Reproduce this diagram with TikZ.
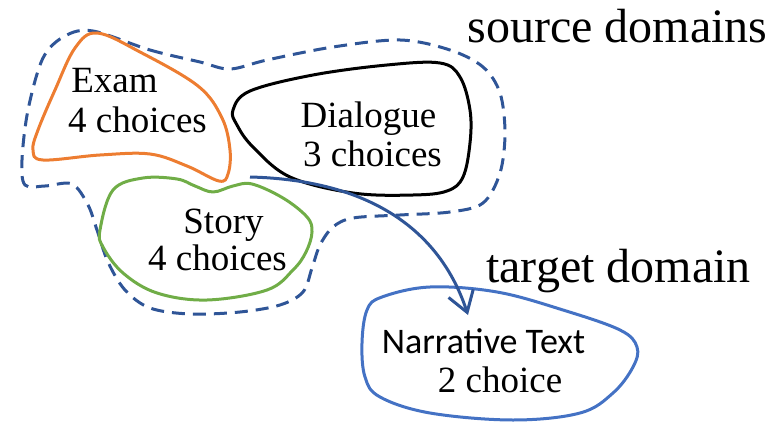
\documentclass[tikz,border=0pt]{standalone}
\usepackage{fontspec}
\setmainfont{Liberation Serif}
\newfontfamily\calibri{Carlito}
\usetikzlibrary{arrows.meta}
\definecolor{cOrange}{HTML}{ED7D31}
\definecolor{cGreen}{HTML}{70AD47}
\definecolor{cBlue}{HTML}{4472C4}
\definecolor{cDark}{HTML}{2F5597}
\begin{document}
\begin{tikzpicture}[x=1pt,y=-1pt,
  blob/.style={line width=3pt, line join=round},
  lbl/.style={inner sep=0pt, anchor=base, font=\fontsize{37}{39}\selectfont},
  big/.style={inner sep=0pt, anchor=base, font=\fontsize{48}{50}\selectfont}]
\useasboundingbox (0,0) rectangle (783,422);
% dashed source domain outline
\draw[cDark, line width=3pt, dash pattern=on 13pt off 8pt]
  plot[smooth cycle, tension=0.55] coordinates {
  (93,31) (150,50) (200,62) (230,69) (267,60) (333,47) (400,40) (450,50) (483,67)
  (500,93) (505,133) (500,173) (483,203) (450,212) (400,215) (353,218) (333,227)
  (320,245) (312,268) (303,292) (280,305) (240,312) (190,314) (150,308) (125,290)
  (108,262) (97,230) (88,205) (72,184) (45,186) (25,185) (22,160) (28,110)
  (43,58) (65,36)};
% Exam
\draw[blob, cOrange] plot[smooth cycle, tension=0.6] coordinates {
  (97,33) (140,52) (198,86) (222,118) (230,150) (228,174) (219,181) (187,166)
  (150,154) (100,155) (43,160) (33,150) (38,130) (55,90) (75,48)};
% Dialogue
\draw[blob, black] plot[smooth cycle, tension=0.6] coordinates {
  (233,110) (250,91) (313,75) (387,65) (440,63) (460,77) (470,110) (470,143)
  (463,177) (447,191) (413,195) (353,193) (290,177) (253,147) (237,125)};
% Story
\draw[blob, cGreen] plot[smooth cycle, tension=0.6] coordinates {
  (100,230) (113,190) (143,178) (177,179) (195,186) (213,192) (233,186) (252,184)
  (283,198) (307,217) (312,232) (306,252) (293,270) (267,290) (207,300) (157,293)
  (123,273) (103,247)};
% Narrative
\draw[blob, cBlue] plot[smooth cycle, tension=0.6] coordinates {
  (382,297) (430,287) (497,292) (563,310) (620,330) (637,347) (633,367) (613,393)
  (580,413) (513,420) (430,413) (380,397) (365,377) (362,343) (367,310)};
% labels
\node[lbl] (exam1) at (114.5,93) {Exam};
\node[lbl] (exam2) at (137.5,133) {4 choices};
\node[lbl] (dia1) at (368.5,128) {Dialogue};
\node[lbl] (dia2) at (372.5,167) {3 choices};
\node[lbl] (story1) at (223.5,233) {Story};
\node[lbl] (story2) at (217.5,270) {4 choices};
\node[lbl, font=\calibri\fontsize{36}{39}\selectfont] (nar1) at (483.5,353) {Narrative Text};
\node[lbl] (nar2) at (500,392) {2 choice};
\node[big] (src) at (617.5,43) {source domains};
\node[big] (tgt) at (618.5,282) {target domain};
% arrow
\coordinate (aS) at (250,177);
\coordinate (aE) at (468,315);
\draw[cDark, line width=3pt, -{Straight Barb[length=20pt, width=26pt, line width=3pt]}]
  (aS) .. controls (370,180) and (440,230) .. (aE);
\end{tikzpicture}
\end{document}
